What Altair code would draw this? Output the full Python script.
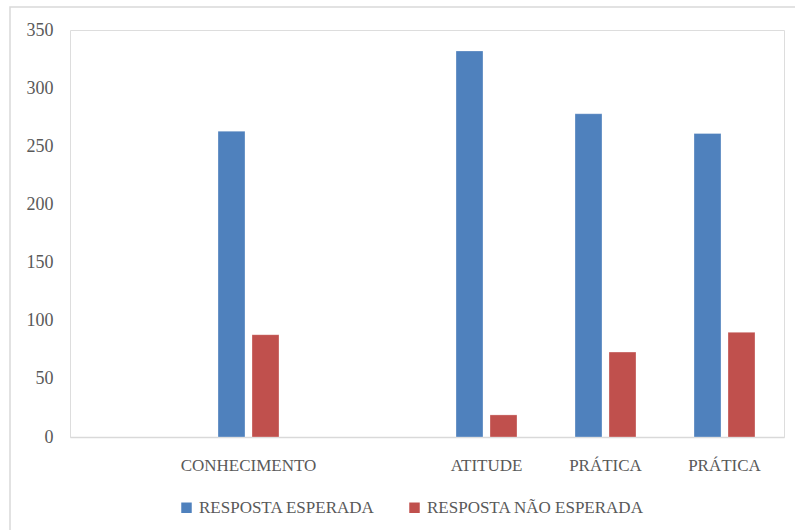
import altair as alt
import pandas as pd
import json

# Category slots (two empty slots in the original chart)
category_labels = ["", "CONHECIMENTO", "", "ATITUDE", "PRÁTICA", "PRÁTICA"]
series_names = ["RESPOSTA ESPERADA", "RESPOSTA NÃO ESPERADA"]
esperada = [None, 263, None, 332, 278, 261]
nao_esperada = [None, 88, None, 19, 73, 90]
y_ticks = [0, 50, 100, 150, 200, 250, 300, 350]
colors = ["#4F81BD", "#C0504D"]

rows = []
for i, lab in enumerate(category_labels):
    for s, vals in zip(series_names, [esperada, nao_esperada]):
        if vals[i] is not None:
            rows.append({"idx": i, "serie": s, "valor": vals[i]})
df = pd.DataFrame(rows)

FONT = "Liberation Serif"
GRAY = "#595959"
label_expr = json.dumps(category_labels, ensure_ascii=False) + "[datum.value]"

bars = alt.Chart(df).mark_bar(stroke="#FFFFFF", strokeWidth=0.6, strokeOpacity=0.5).encode(
    x=alt.X("idx:O",
            scale=alt.Scale(domain=list(range(len(category_labels))), paddingInner=0.4874, paddingOuter=0.2437),
            axis=alt.Axis(title=None, labelExpr=label_expr, labelAngle=0, ticks=False,
                          domainColor="#D9D9D9", domainWidth=1.3, labelFont=FONT, labelFontSize=17,
                          labelColor=GRAY, labelPadding=20)),
    xOffset=alt.XOffset("serie:N", sort=series_names,
                        scale=alt.Scale(paddingInner=0.206, paddingOuter=0)),
    y=alt.Y("valor:Q", scale=alt.Scale(domain=[0, 350], nice=False),
            axis=alt.Axis(title=None, values=y_ticks, grid=False, ticks=False, domain=False,
                          labelFont=FONT, labelFontSize=18, labelColor=GRAY, labelPadding=17)),
    color=alt.Color("serie:N", sort=series_names,
                    scale=alt.Scale(domain=series_names, range=colors),
                    legend=alt.Legend(title=None, orient="none", direction="horizontal",
                                      legendX=108, legendY=469, symbolType="square", symbolSize=110,
                                      symbolStrokeWidth=0, labelFont=FONT, labelFontSize=17,
                                      labelColor=GRAY, labelOffset=4, columnPadding=31, padding=0,
                                      labelLimit=0)),
)

border = alt.Chart(pd.DataFrame({"k": [0]})).mark_rect(
    fill=None, stroke="#D9D9D9", strokeWidth=1.5
).encode(x=alt.value(-60), x2=alt.value(740), y=alt.value(-23), y2=alt.value(520))

chart = alt.layer(border, bars).properties(
    width=714, height=407,
    padding={"left": 70, "top": 30, "right": 11, "bottom": 93},
    autosize=alt.AutoSizeParams(type="none"),
).configure_view(stroke=None).configure(background="white")

chart.save("out.html", embed_options={"renderer": "svg", "actions": False})
